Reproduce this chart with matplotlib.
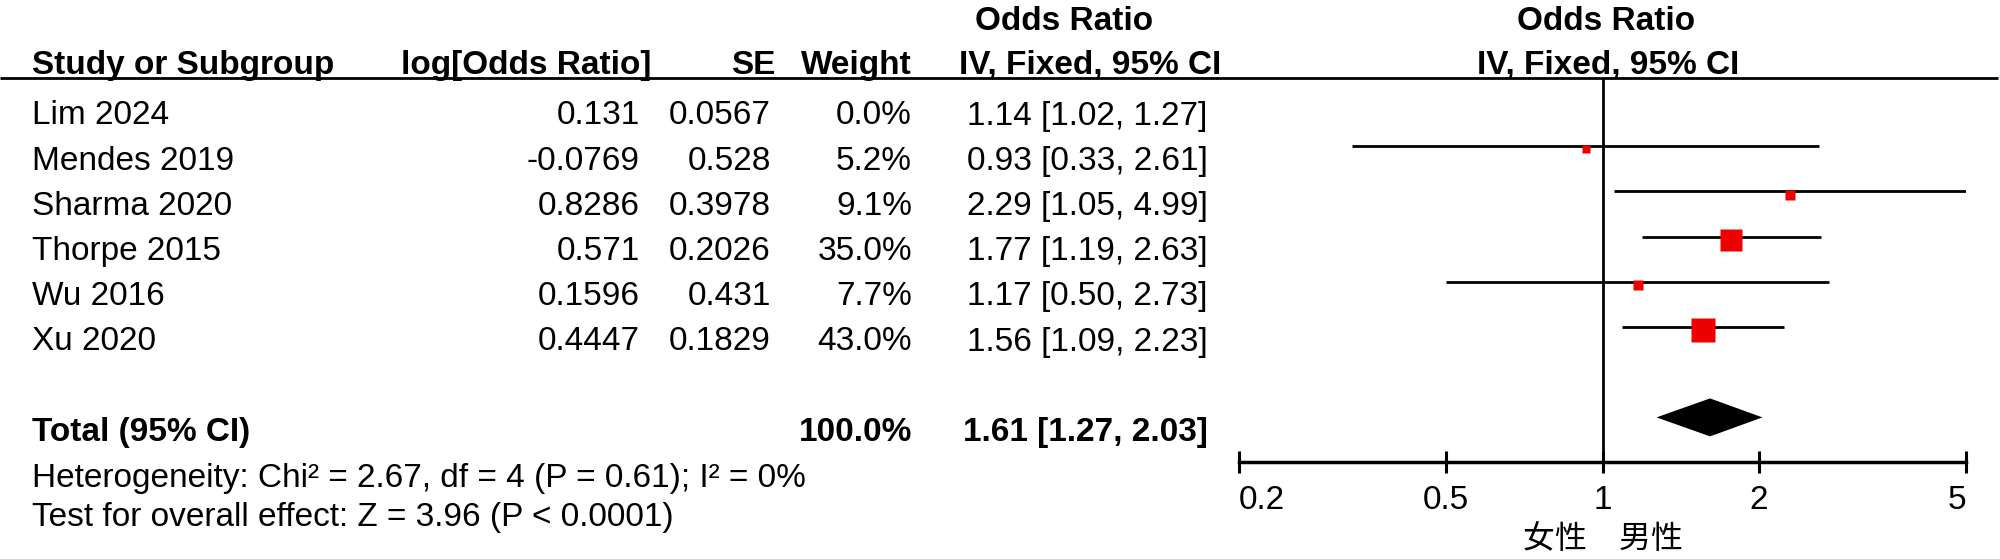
import numpy as np
import matplotlib
matplotlib.use('Agg')
import matplotlib.pyplot as plt
from matplotlib.ticker import NullLocator

plt.rcParams['font.family'] = ['Liberation Sans', 'DejaVu Sans']

# study data
studies = ['Lim 2024', 'Mendes 2019', 'Sharma 2020', 'Thorpe 2015', 'Wu 2016', 'Xu 2020']
log_or = [0.131, -0.0769, 0.8286, 0.571, 0.1596, 0.4447]
se = [0.0567, 0.528, 0.3978, 0.2026, 0.431, 0.1829]
weight = [0.0, 5.2, 9.1, 35.0, 7.7, 43.0]
odds = [1.14, 0.93, 2.29, 1.77, 1.17, 1.56]
ci_low = [1.02, 0.33, 1.05, 1.19, 0.50, 1.09]
ci_high = [1.27, 2.61, 4.99, 2.63, 2.73, 2.23]

# pooled result
total_or = 1.61
total_low = 1.27
total_high = 2.03
total_weight = 100.0
heterogeneity = 'Heterogeneity: Chi² = 2.67, df = 4 (P = 0.61); I² = 0%'
overall = 'Test for overall effect: Z = 3.96 (P < 0.0001)'

ticks = [0.2, 0.5, 1, 2, 5]
tick_labels = ['0.2', '0.5', '1', '2', '5']
favours = '女性　男性'

W, H = 2000, 559
fig = plt.figure(figsize=(W / 100, H / 100), dpi=100)

# table part, laid out in pixel units
tab = fig.add_axes([0, 0, 1, 1])
tab.set_xlim(0, W)
tab.set_ylim(H, 0)
tab.axis('off')

fs = 24
bold = dict(fontsize=fs, fontweight='bold')
norm = dict(fontsize=fs)

tab.text(1064, 30, 'Odds Ratio', ha='center', **bold)
tab.text(1606, 30, 'Odds Ratio', ha='center', **bold)
hy = 74
tab.text(32, hy, 'Study or Subgroup', ha='left', **bold)
tab.text(651, hy, 'log[Odds Ratio]', ha='right', **bold)
tab.text(775, hy, 'SE', ha='right', **bold)
tab.text(912, hy, 'Weight', ha='right', **bold)
tab.text(1090, hy, 'IV, Fixed, 95% CI', ha='center', **bold)
tab.text(1608, hy, 'IV, Fixed, 95% CI', ha='center', **bold)
tab.plot([0, 1998], [78, 78], color='black', lw=2.0, solid_capstyle='butt')

for i, name in enumerate(studies):
    y = 124.5 + 45.2 * i
    tab.text(32, y, name, ha='left', **norm)
    tab.text(640, y, str(log_or[i]), ha='right', **norm)
    tab.text(771, y, str(se[i]), ha='right', **norm)
    tab.text(912, y, f'{weight[i]:.1f}%', ha='right', **norm)
    tab.text(1087, y, f'{odds[i]:.2f} [{ci_low[i]:.2f}, {ci_high[i]:.2f}]', ha='center', **norm)

tab.text(32, 441, 'Total (95% CI)', ha='left', **bold)
tab.text(912, 441, f'{total_weight:.1f}%', ha='right', **bold)
tab.text(1085, 441, f'{total_or:.2f} [{total_low:.2f}, {total_high:.2f}]', ha='center', **bold)
tab.text(32, 487, heterogeneity, ha='left', **norm)
tab.text(32, 526, overall, ha='left', **norm)

tab.text(1603, 539, favours, ha='center', va='center', fontsize=23,
         fontweight='light', family=['Noto Sans CJK SC', 'DejaVu Sans'])

# forest plot on a log axis
ax = fig.add_axes([1239 / W, (H - 462) / H, (1966 - 1239) / W, (462 - 78) / H])
ax.set_xscale('log')
ax.set_xlim(0.2, 5)
ax.set_ylim(7.987, -0.509)
ax.patch.set_alpha(0)
for s in ['top', 'right', 'left']:
    ax.spines[s].set_visible(False)
ax.spines['bottom'].set_linewidth(2.5)
ax.set_xticks(ticks)
ax.set_xticklabels(tick_labels, fontsize=24)
ax.xaxis.set_minor_locator(NullLocator())
ax.tick_params(axis='x', direction='inout', length=16.5, width=2.2, pad=8.5)
ax.set_yticks([])
lbls = ax.get_xticklabels()
lbls[0].set_horizontalalignment('left')
lbls[-1].set_horizontalalignment('right')

ax.axvline(1, color='black', lw=2.0, zorder=1)

for i in range(len(studies)):
    if weight[i] <= 0:
        continue
    ax.plot([ci_low[i], ci_high[i]], [i, i], color='black', lw=2.0,
            solid_capstyle='butt', zorder=2)
    side = 6.3 + 0.423 * weight[i]  # pixels
    # boxes sit a touch below the line, as in the original
    ax.plot(odds[i], i + 0.07, marker='s', ms=side * 0.72, color='#ee0000',
            mec='none', zorder=3)

ty = 7
ax.fill([total_low, total_or, total_high, total_or],
        [ty, ty - 0.42, ty, ty + 0.42], color='black', lw=0, zorder=3)

fig.savefig('out.png', dpi=100)
